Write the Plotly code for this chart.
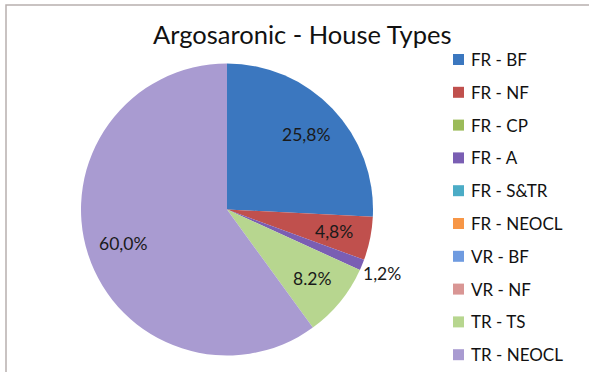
import math
import plotly.graph_objects as go

W, H = 589, 372

# House type categories and their shares (%)
categories = ["FR - BF", "FR - NF", "FR - CP", "FR - A", "FR - S&TR",
              "FR - NEOCL", "VR - BF", "VR - NF", "TR - TS", "TR - NEOCL"]
shares = [25.8, 4.8, 0.0, 1.2, 0.0, 0.0, 0.0, 0.0, 8.2, 60.0]
value_labels = ["25,8%", "4,8%", "", "1,2%", "", "", "", "", "8.2%", "60,0%"]
colors = ["#3b77bf", "#c0504d", "#9bbb59", "#7a5eb3", "#4bacc6",
          "#f79646", "#6f9be0", "#d99694", "#b7d68f", "#a99bd1"]

# pie placement in pixels
CX, CY, R = 227, 209.5, 146


def px(x):
    return x / W


def py(y):
    return 1 - y / H


fig = go.Figure(go.Pie(
    labels=categories,
    values=shares,
    textinfo="none",
    marker=dict(colors=colors, line=dict(width=0)),
    sort=False,
    direction="clockwise",
    rotation=0,
    showlegend=False,
    hoverinfo="label+percent",
    domain=dict(x=[px(CX - R), px(CX + R)], y=[py(CY + R), py(CY - R)]),
))

shapes = [
    # chart frame
    dict(type="rect", xref="paper", yref="paper",
         x0=px(6), x1=px(W + 5), y0=py(H + 5), y1=py(5),
         line=dict(color="#b8b0ae", width=1.5), fillcolor="rgba(0,0,0,0)"),
]
annotations = [
    dict(text="Argosaronic - House Types", xref="paper", yref="paper",
         x=px(302), y=py(34), xanchor="center", yanchor="middle",
         showarrow=False, font=dict(family="Lato", size=25.5, color="#111111")),
]

# data labels at each slice's mid-angle (clockwise from 12 o'clock)
total = sum(shares)
cum = 0.0
for v, lab in zip(shares, value_labels):
    if v > 0 and lab:
        mid = (cum + v / 2) / total * 2 * math.pi
        k = 1.15 if v < 3 else 0.75
        lx = CX + k * R * math.sin(mid)
        ly = CY - k * R * math.cos(mid)
        annotations.append(dict(text=lab, xref="paper", yref="paper",
                                x=px(lx), y=py(ly), xanchor="center",
                                yanchor="middle", showarrow=False,
                                font=dict(family="Lato", size=17.5,
                                          color="#1a1a1a")))
    cum += v

# legend: colour key squares with category names
for i, (name, col) in enumerate(zip(categories, colors)):
    yc = 59.5 + i * 32.8
    shapes.append(dict(type="rect", xref="paper", yref="paper",
                       x0=px(453), x1=px(464), y0=py(yc + 5.5), y1=py(yc - 5.5),
                       fillcolor=col, line=dict(width=0)))
    annotations.append(dict(text=name, xref="paper", yref="paper",
                            x=px(469), y=py(yc), xanchor="left", yanchor="middle",
                            showarrow=False,
                            font=dict(family="Lato", size=17, color="#111111")))

fig.update_layout(
    width=W, height=H,
    margin=dict(l=0, r=0, t=0, b=0),
    paper_bgcolor="white",
    plot_bgcolor="white",
    shapes=shapes,
    annotations=annotations,
)

fig.write_html("out.html")
